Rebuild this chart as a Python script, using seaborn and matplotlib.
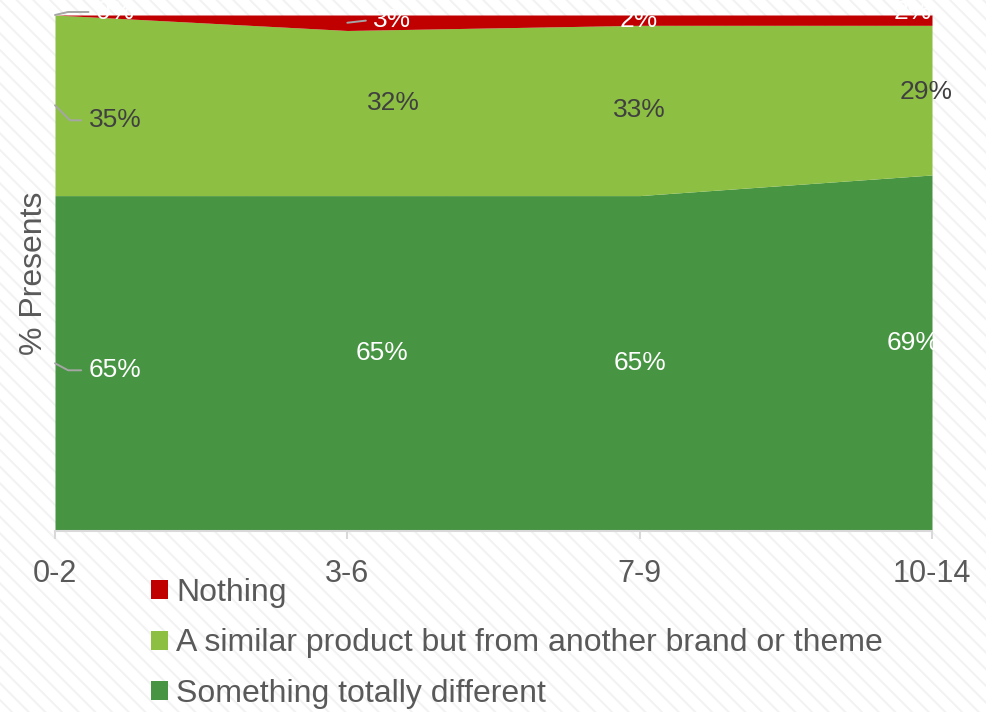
import matplotlib
matplotlib.use("Agg")
import matplotlib.pyplot as plt
from matplotlib.patches import Patch, Rectangle
import numpy as np
import pandas as pd
import seaborn as sns

# Age groups and share of presents (%) for each answer
age_groups = ["0-2", "3-6", "7-9", "10-14"]
something_different = [65, 65, 65, 69]
similar_product = [35, 32, 33, 29]
nothing = [0, 3, 2, 2]

series_names = ["Something totally different",
                "A similar product but from another brand or theme",
                "Nothing"]
series_colors = ["#479443", "#8cbf42", "#c00000"]
label_colors = ["white", "#404040", "white"]

df = pd.DataFrame({
    "age": age_groups,
    series_names[0]: something_different,
    series_names[1]: similar_product,
    series_names[2]: nothing,
})

sns.set_theme(style="white")
plt.rcParams["font.family"] = ["Liberation Sans", "DejaVu Sans"]
plt.rcParams["hatch.linewidth"] = 1.4

fig = plt.figure(figsize=(9.86, 7.12), dpi=100)
fig.patch.set_facecolor("white")
# faint diagonal striped backdrop
fig.patches.append(Rectangle((0, 0), 1, 1, transform=fig.transFigure,
                             facecolor="white", edgecolor="#f2f2f2",
                             hatch="\\\\", linewidth=0, zorder=-10))

W, H = 986, 712
ax = fig.add_axes([55 / W, 1 - 531 / H, 877 / W, 516 / H])
ax.set_facecolor("none")

x = np.arange(len(age_groups))
values = [df[name].to_numpy() for name in series_names]
ax.stackplot(x, *values, colors=series_colors, linewidth=0)

ax.set_xlim(0, len(age_groups) - 1)
ax.set_ylim(0, 100)
ax.set_xticks(x)
ax.set_xticklabels(age_groups)
ax.set_yticks([])
for side in ["top", "right", "left"]:
    ax.spines[side].set_visible(False)
ax.spines["bottom"].set_color("#d9d9d9")
ax.spines["bottom"].set_linewidth(1.5)
ax.tick_params(axis="x", bottom=True, length=6, width=1.5, color="#d9d9d9",
               labelsize=22, labelcolor="#595959", pad=14)
ax.set_ylabel("% Presents", fontsize=23, color="#595959", labelpad=4)

# label offsets (pixels) for each series / age group
offsets = [
    [(60, -7), (35, 10), (0, 0), (-19, 10)],
    [(60, -15), (46, 10), (0, 0), (-6, 8)],
    [(60, 3), (45, 3), (-1, 0), (-19, 8)],
]
leader = {
    (0, 0): "angle,angleA=0,angleB=-28",
    (1, 0): "angle,angleA=0,angleB=-45",
    (2, 0): "angle,angleA=0,angleB=13",
    (2, 1): "arc3,rad=0",
}

base = np.zeros(len(age_groups))
for i, vals in enumerate(values):
    mids = base + vals / 2
    for j, v in enumerate(vals):
        dx, dy = offsets[i][j]
        kw = {}
        xy = (x[j], mids[j])
        if (i, j) in leader:
            kw["arrowprops"] = dict(arrowstyle="-", color="#a6a6a6", lw=1.4,
                                    shrinkA=3, shrinkB=0, relpos=(0, 0.5),
                                    connectionstyle=leader[(i, j)])
        ax.annotate(f"{v}%", xy=xy, xytext=(dx, dy), textcoords="offset pixels",
                    ha="center", va="center", fontsize=19,
                    color=label_colors[i], annotation_clip=False, **kw)
    base = base + vals

handles = [Patch(facecolor=series_colors[k], edgecolor="none") for k in (2, 1, 0)]
labels = [series_names[k] for k in (2, 1, 0)]
fig.legend(handles, labels, loc="upper left", bbox_to_anchor=(151 / W, 1 - 578 / H),
           frameon=False, fontsize=23, labelcolor="#595959",
           handlelength=0.54, handleheight=0.54, handletextpad=0.25,
           labelspacing=0.64, borderpad=0, borderaxespad=0)

fig.savefig("out.png", dpi=100)
